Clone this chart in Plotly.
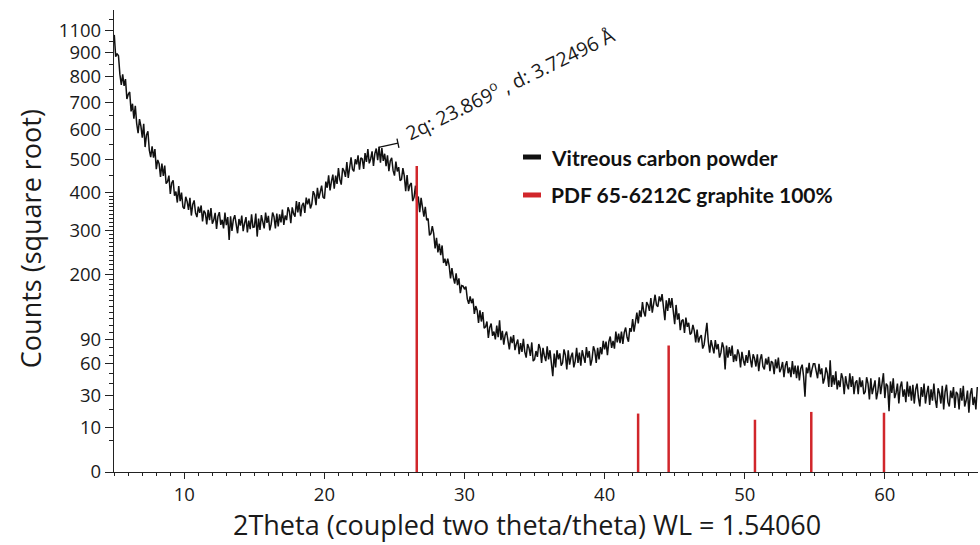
import numpy as np
import plotly.graph_objects as go

# Measured counts, one value every 0.1° of 2θ starting at 5.0°
counts_05_10 = [979, 884, 897, 888, 811, 768, 810, 764, 791, 713,
                731, 740, 666, 695, 640, 687, 622, 588, 638, 613,
                573, 621, 541, 582, 595, 531, 508, 543, 506, 534,
                470, 499, 487, 446, 487, 449, 481, 426, 432, 450,
                396, 428, 436, 391, 403, 372, 419, 376, 400, 360]
counts_10_20 = [355, 388, 375, 352, 385, 337, 367, 378, 344, 333,
                361, 344, 364, 322, 350, 343, 314, 352, 325, 357,
                316, 325, 344, 303, 335, 346, 313, 326, 304, 345,
                312, 333, 276, 335, 298, 327, 338, 307, 292, 328,
                311, 337, 297, 317, 333, 294, 324, 302, 340, 307,
                308, 342, 284, 329, 300, 338, 323, 304, 345, 318,
                336, 299, 315, 345, 334, 304, 342, 309, 340, 319,
                353, 313, 337, 325, 359, 348, 317, 359, 342, 334,
                376, 345, 373, 335, 364, 371, 344, 386, 367, 383,
                356, 368, 404, 394, 365, 414, 383, 406, 420, 387]
counts_20_30 = [383, 432, 414, 451, 406, 433, 453, 411, 450, 425,
                473, 438, 423, 473, 465, 446, 492, 443, 486, 507,
                470, 463, 501, 485, 514, 468, 506, 502, 471, 521,
                493, 534, 488, 502, 527, 480, 520, 536, 498, 542,
                490, 538, 496, 519, 479, 514, 464, 496, 506, 466,
                450, 494, 463, 476, 435, 439, 473, 449, 404, 452,
                404, 422, 428, 376, 387, 420, 368, 389, 346, 385,
                359, 334, 360, 325, 329, 287, 291, 310, 291, 256,
                281, 247, 267, 241, 263, 224, 233, 218, 233, 219,
                192, 213, 194, 182, 202, 179, 192, 164, 178, 177]
counts_30_40 = [171, 176, 153, 145, 158, 146, 154, 128, 141, 134,
                114, 134, 116, 131, 106, 108, 116, 92, 107, 113,
                95, 101, 90, 110, 93, 118, 89, 102, 83, 96,
                101, 85, 77, 94, 85, 96, 76, 84, 90, 71,
                85, 74, 91, 74, 67, 84, 79, 69, 86, 63,
                65, 75, 68, 84, 78, 61, 79, 69, 63, 81,
                65, 76, 57, 47, 72, 56, 76, 65, 72, 58,
                61, 77, 70, 54, 76, 59, 68, 73, 56, 63,
                79, 61, 73, 58, 76, 69, 61, 80, 67, 75,
                58, 65, 81, 75, 61, 79, 65, 80, 71, 88]
counts_40_50 = [77, 87, 70, 87, 94, 79, 88, 78, 101, 86,
                98, 85, 101, 84, 100, 107, 93, 87, 106, 101,
                120, 101, 118, 130, 113, 134, 123, 148, 131, 124,
                148, 143, 133, 155, 130, 150, 161, 143, 140, 158,
                149, 162, 138, 118, 151, 133, 155, 138, 155, 128,
                112, 143, 119, 129, 103, 117, 119, 99, 122, 108,
                114, 97, 99, 111, 102, 86, 104, 86, 93, 96,
                78, 83, 96, 114, 87, 73, 89, 81, 72, 89,
                77, 84, 67, 73, 86, 79, 54, 82, 67, 80,
                69, 82, 62, 71, 63, 77, 71, 56, 74, 64]
counts_50_60 = [58, 70, 61, 76, 63, 56, 71, 66, 57, 71,
                52, 65, 71, 57, 54, 66, 59, 68, 52, 63,
                61, 49, 65, 55, 67, 51, 55, 62, 46, 58,
                63, 50, 56, 46, 63, 49, 58, 45, 58, 43,
                55, 59, 47, 29, 56, 50, 61, 46, 54, 60,
                60, 53, 45, 60, 49, 55, 40, 45, 56, 50,
                37, 64, 37, 48, 39, 52, 35, 43, 37, 50,
                45, 31, 47, 39, 35, 50, 37, 47, 31, 41,
                43, 31, 46, 37, 43, 31, 33, 46, 40, 27,
                45, 31, 39, 43, 27, 33, 46, 31, 40, 50]
counts_60_67 = [28, 40, 38, 19, 42, 32, 45, 28, 32, 40,
                24, 37, 42, 29, 35, 25, 42, 29, 38, 26,
                39, 24, 35, 40, 28, 22, 37, 29, 40, 24,
                32, 38, 23, 35, 26, 40, 27, 21, 36, 32,
                24, 38, 20, 33, 39, 25, 22, 34, 28, 37,
                21, 33, 31, 20, 36, 26, 38, 22, 26, 34,
                18, 31, 36, 23, 29, 20, 37]

counts = (counts_05_10 + counts_10_20 + counts_20_30 + counts_30_40
          + counts_40_50 + counts_50_60 + counts_60_67)
two_theta = np.round(5.0 + 0.1 * np.arange(len(counts)), 1)

# Reference pattern: PDF 65-6212C graphite (peak positions and scaled heights)
pdf_positions = [26.59, 42.39, 44.57, 50.73, 54.75, 59.94]
pdf_heights = [480, 17.5, 82, 14, 18.5, 18]

# Labelled peak of the sample
peak_2theta = 23.869
peak_d = 3.72496
peak_counts = 540

# Square-root count axis
y_tick_values = [0, 10, 30, 60, 90, 200, 300, 400, 500, 600, 700, 800, 900, 1000]
y_tick_labels = ["0", "10", "30", "60", "90", "200", "300", "400", "500", "600",
                 "700", "800", "900", "1100"]
y_minor_values = ([5, 20, 40, 50, 70, 80] + list(range(100, 200, 10))
                  + list(range(210, 300, 10)) + list(range(310, 400, 10))
                  + [450, 550, 650, 750, 850, 950, 1050])
x_tick_values = [10, 20, 30, 40, 50, 60]
x_minor_values = [v for v in range(5, 67) if v % 10 != 0]

series_names = ["Vitreous carbon powder", "PDF 65-6212C graphite 100%"]
series_colors = ["#111111", "#d1262b"]

sq = np.sqrt
text_color = "#1a1a1a"

fig = go.Figure()

fig.add_trace(go.Scatter(
    x=two_theta, y=sq(np.array(counts, dtype=float)), mode="lines",
    line=dict(color=series_colors[0], width=1.5), name=series_names[0],
    showlegend=False))

stem_x, stem_y = [], []
for p, h in zip(pdf_positions, pdf_heights):
    stem_x += [p, p, None]
    stem_y += [0, float(sq(h)), None]
fig.add_trace(go.Scatter(
    x=stem_x, y=stem_y, mode="lines",
    line=dict(color=series_colors[1], width=2.5), name=series_names[1],
    showlegend=False))

# Peak marker: short leader with an end cap, then rotated label
ly0 = float(sq(peak_counts))
lx1, ly1 = peak_2theta + 1.38, ly0 + 0.3
fig.add_shape(type="line", x0=peak_2theta, y0=ly0, x1=lx1, y1=ly1,
              line=dict(color="#111111", width=1.3))
fig.add_shape(type="line", x0=lx1 - 0.07, y0=ly1 + 0.33, x1=lx1 + 0.07, y1=ly1 - 0.33,
              line=dict(color="#111111", width=1.3))
fig.add_annotation(
    x=33.25, y=27.85, xref="x", yref="y", showarrow=False,
    text=f"2q: {peak_2theta:.3f}<sup>o</sup> , d: {peak_d:.5f} Å",
    textangle=-26, font=dict(family="Open Sans", size=19.5, color=text_color))

# Legend drawn as swatches plus bold labels
legend_rows = [0.6818, 0.5996]
for name, color, yy in zip(series_names, series_colors, legend_rows):
    fig.add_shape(type="line", xref="paper", yref="paper",
                  x0=0.4734, x1=0.4942, y0=yy, y1=yy,
                  line=dict(color=color, width=5))
    fig.add_annotation(xref="paper", yref="paper", x=0.5035, y=yy,
                       xanchor="left", yanchor="middle", showarrow=False,
                       text=f"<b>{name}</b>",
                       font=dict(family="Lato", size=21, color="#111111"))

# Axis titles
title_font = dict(family="Open Sans", size=27, color=text_color)
fig.add_annotation(xref="paper", yref="paper", x=0.478, y=-0.113,
                   xanchor="center", yanchor="middle", showarrow=False,
                   text="2Theta (coupled two theta/theta) WL = 1.54060", font=title_font)
fig.add_annotation(xref="paper", yref="paper", x=-0.0972, y=0.504,
                   xanchor="center", yanchor="middle", showarrow=False, textangle=-90,
                   text="Counts (square root)", font=title_font)

axis_font = dict(family="Open Sans", size=18.5, color=text_color)

fig.update_xaxes(
    range=[4.98, 66.65], showgrid=False, zeroline=False,
    showline=True, linecolor="#222222", linewidth=1.3,
    tickmode="array", tickvals=x_tick_values, ticks="outside",
    ticklen=6, tickwidth=1.2, tickcolor="#222222", tickfont=axis_font,
    minor=dict(tickmode="array", tickvals=x_minor_values, ticks="outside",
               ticklen=3, tickwidth=1, tickcolor="#222222"))
fig.update_yaxes(
    range=[0, 33.07], showgrid=False, zeroline=False,
    showline=True, linecolor="#222222", linewidth=1.3,
    tickmode="array", tickvals=[float(sq(v)) for v in y_tick_values],
    ticktext=y_tick_labels, ticks="outside",
    ticklen=8, tickwidth=1.2, tickcolor="#222222", tickfont=axis_font,
    minor=dict(tickmode="array", tickvals=[float(sq(v)) for v in y_minor_values],
               ticks="outside", ticklen=4, tickwidth=1, tickcolor="#222222"))

fig.update_layout(
    width=980, height=545,
    margin=dict(l=114, r=2, t=10, b=73, autoexpand=False),
    paper_bgcolor="white", plot_bgcolor="white",
)

fig.write_html("out.html")
